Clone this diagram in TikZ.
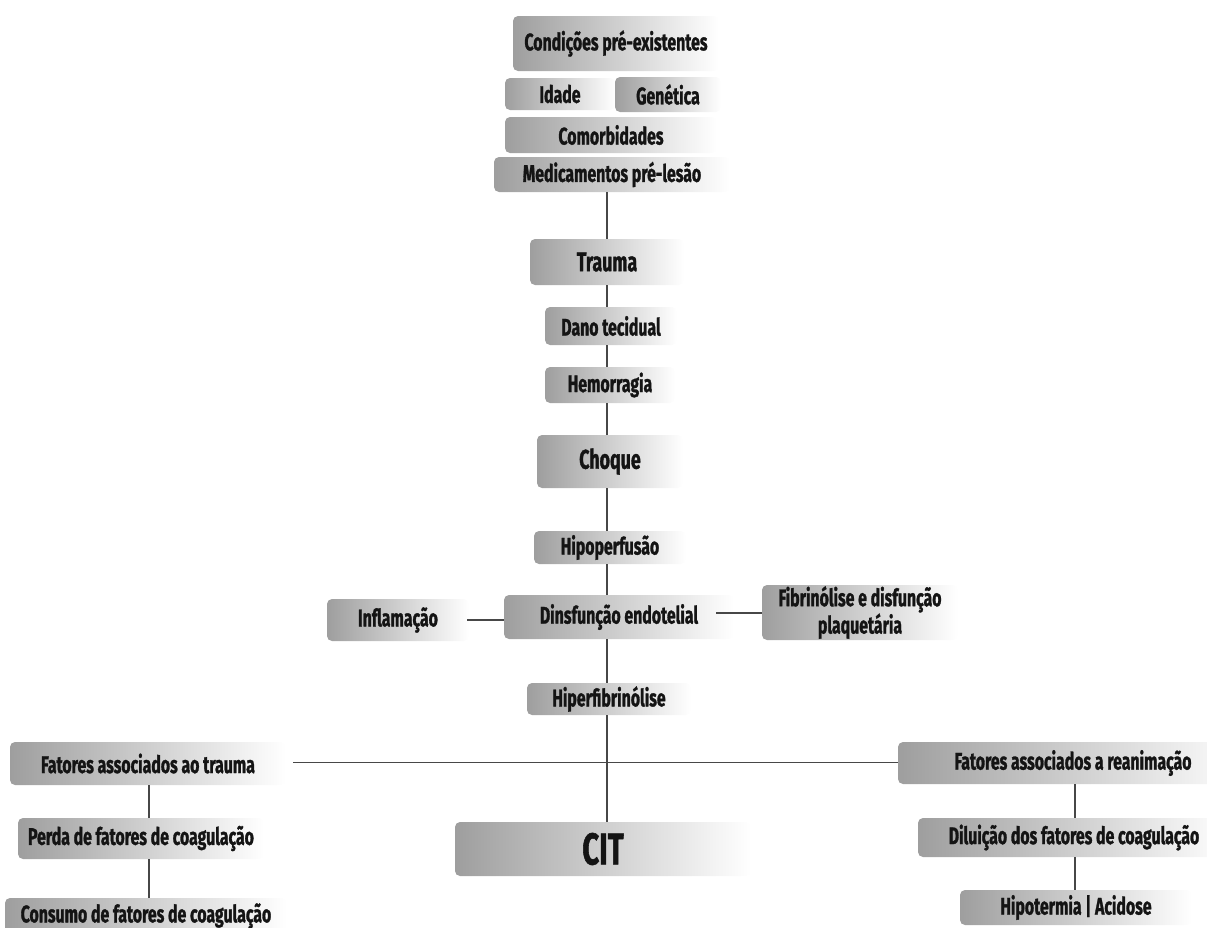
\documentclass[tikz,border=0pt]{standalone}
\usepackage{fontspec}
\setmainfont{Fira Sans}[FakeStretch=0.66, FakeBold=1.2]
\tikzset{
  box/.style={rounded corners=5pt, left color=black!38, right color=white,
    inner sep=0pt, text=black!92, align=center,
    font=\bfseries\fontsize{24}{25}\selectfont},
  big/.style={font=\bfseries\fontsize{27}{30}\selectfont},
  huge/.style={font=\bfseries\fontsize{44.5}{48}\selectfont},
  conn/.style={draw=black!72, line width=1.2pt},
}
% name, left, top, right, bottom, options, text
\newcommand\bx[7]{%
  \node[box,#6, minimum width=#4pt-#2pt, minimum height=#5pt-#3pt]
    (#1) at ({(#2+#4)/2},{(#3+#5)/2}) {#7};}
\begin{document}
\begin{tikzpicture}[x=1pt,y=-1pt]
\useasboundingbox (0,0) rectangle (1207,927);
\clip (0,0) rectangle (1207,927);
\coordinate (trunk) at (607,0);
\coordinate (ltrunk) at (149,0);
\coordinate (rtrunk) at (1075,0);

\bx{cond}{513}{16}{719}{71}{}{Condições pré-existentes}
\bx{idade}{505}{78}{615}{110}{}{Idade}
\bx{gen}{615}{77}{721}{112}{}{Genética}
\bx{comor}{505}{117}{717}{153}{}{Comorbidades}
\bx{med}{494}{157}{730}{192}{}{Medicamentos pré-lesão}
\bx{trauma}{530}{239}{684}{285}{big}{Trauma}
\bx{dano}{545}{307}{677}{345}{}{Dano tecidual}
\bx{hemo}{545}{367}{675}{403}{}{Hemorragia}
\bx{choque}{537}{435}{683}{488}{big}{Choque}
\bx{hipo}{534}{531}{686}{564}{}{Hipoperfusão}
\bx{infl}{327}{599}{469}{641}{}{Inflamação}
\bx{disf}{504}{595}{734}{639}{}{Dinsfunção endotelial}
\bx{fibr}{762}{585}{958}{640}{}{Fibrinólise e disfunção\\plaquetária}
\bx{hiper}{527}{683}{691}{715}{}{Hiperfibrinólise}
\bx{ftr}{10}{742}{286}{785}{}{Fatores associados ao trauma}
\bx{perda}{18}{818}{264}{859}{}{Perda de fatores de coagulação}
\bx{cons}{5}{898}{287}{934}{}{Consumo de fatores de coagulação}
\bx{cit}{455}{822}{751}{876}{huge}{CIT}
\bx{frea}{898}{742}{1248}{784}{}{Fatores associados a reanimação}
\bx{dil}{918}{818}{1230}{857}{}{Diluição dos fatores de coagulação}
\bx{hipot}{960}{890}{1192}{925}{}{Hipotermia | Acidose}

\draw[conn] (med.south -| trunk) -- (trauma.north -| trunk);
\draw[conn] (trauma.south -| trunk) -- (dano.north -| trunk);
\draw[conn] (dano.south -| trunk) -- (hemo.north -| trunk);
\draw[conn] (hemo.south -| trunk) -- (choque.north -| trunk);
\draw[conn] (choque.south -| trunk) -- (hipo.north -| trunk);
\draw[conn] (hipo.south -| trunk) -- (disf.north -| trunk);
\draw[conn] (disf.south -| trunk) -- (hiper.north -| trunk);
\draw[conn] (hiper.south -| trunk) -- (cit.north -| trunk);
\draw[conn] (infl.east) ++(-2,0) coordinate (ie) (ie) -- (disf.west |- ie);
\draw[conn] (disf.east) ++(-18,-4) coordinate (de) (de) -- (fibr.west |- de);
\draw[conn] (ftr.east) ++(7,-1) coordinate (fe) (fe) -- (frea.west |- fe);
\draw[conn] (ftr.south -| ltrunk) -- (perda.north -| ltrunk);
\draw[conn] (perda.south -| ltrunk) -- (cons.north -| ltrunk);
\draw[conn] (frea.south -| rtrunk) -- (dil.north -| rtrunk);
\draw[conn] (dil.south -| rtrunk) -- (hipot.north -| rtrunk);
\end{tikzpicture}
\end{document}
